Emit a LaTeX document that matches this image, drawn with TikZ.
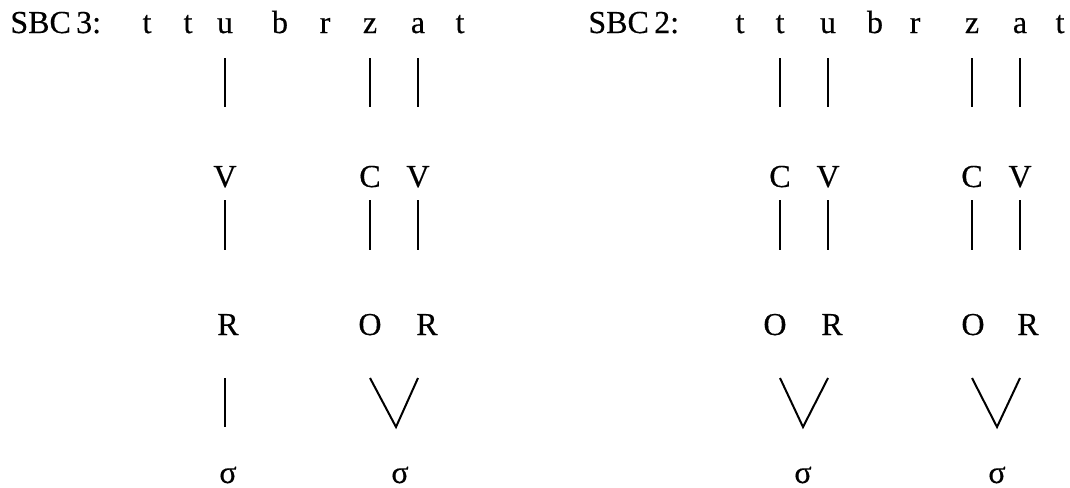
\documentclass[tikz,border=0pt]{standalone}
\usepackage{fontspec}
\setmainfont{Liberation Serif}[UprightFeatures={FakeBold=0.4}]
\usetikzlibrary{calc}

\tikzset{
  seg/.style={inner sep=0pt, text height=10.6pt, text depth=0pt, font=\fontsize{16}{19}\selectfont},
  tierA/.style={line width=1pt, shorten <=12.5pt, shorten >=29.4pt},
  tierB/.style={line width=1pt, shorten <=6.5pt, shorten >=37.2pt},
  tierC/.style={line width=1pt, shorten <=26.8pt, shorten >=22.7pt},
  vee/.style={line width=1pt}
}

\begin{document}
\begin{tikzpicture}[x=0.5pt,y=-0.5pt]

\useasboundingbox (0,0) rectangle (1070,487);

% SBC 3
\node[seg, anchor=west] (lab3) at (10,22.4) {SBC\,3:};
\node[seg] (l-t1) at (147,22.4) {t};
\node[seg] (l-t2) at (188,22.4) {t};
\node[seg] (l-u) at (225,22.4) {u};
\node[seg] (l-b) at (280,22.4) {b};
\node[seg] (l-r) at (325,22.4) {r};
\node[seg] (l-z) at (370,22.4) {z};
\node[seg] (l-a) at (418,22.4) {a};
\node[seg] (l-t3) at (460,22.4) {t};

\node[seg] (lV1) at (225,176.4) {V};
\node[seg] (lC2) at (370,176.4) {C};
\node[seg] (lV2) at (418,176.4) {V};

\node[seg] (lR1) at (228,324.4) {R};
\node[seg] (lO2) at (370,324.4) {O};
\node[seg] (lR2) at (427,324.4) {R};

\node[seg] (ls1) at (228,472.4) {σ};
\node[seg] (ls2) at (400,472.4) {σ};

\draw[tierA] (l-u) -- (lV1);
\draw[tierA] (l-z) -- (lC2);
\draw[tierA] (l-a) -- (lV2);

\draw[tierB] (lV1) -- (lV1 |- lR1);
\draw[tierB] (lC2) -- (lC2 |- lO2);
\draw[tierB] (lV2) -- (lV2 |- lR2);

\draw[tierC] (lV1 |- lR1) -- (lV1 |- ls1);
\draw[vee] ($(lC2 |- lO2)+(0,53.6)$) -- ($(ls2)+(-4,-45.4)$) -- ($(lV2 |- lR2)+(0,53.6)$);

% SBC 2
\node[seg, anchor=west] (lab2) at (588,22.4) {SBC\,2:};
\node[seg] (r-t1) at (740,22.4) {t};
\node[seg] (r-t2) at (780,22.4) {t};
\node[seg] (r-u) at (828,22.4) {u};
\node[seg] (r-b) at (875,22.4) {b};
\node[seg] (r-r) at (915,22.4) {r};
\node[seg] (r-z) at (972,22.4) {z};
\node[seg] (r-a) at (1020,22.4) {a};
\node[seg] (r-t3) at (1060,22.4) {t};

\node[seg] (rC1) at (780,176.4) {C};
\node[seg] (rV1) at (828,176.4) {V};
\node[seg] (rC2) at (972,176.4) {C};
\node[seg] (rV2) at (1020,176.4) {V};

\node[seg] (rO1) at (775,324.4) {O};
\node[seg] (rR1) at (832,324.4) {R};
\node[seg] (rO2) at (973,324.4) {O};
\node[seg] (rR2) at (1028,324.4) {R};

\node[seg] (rs1) at (803,472.4) {σ};
\node[seg] (rs2) at (997,472.4) {σ};

\draw[tierA] (r-t2) -- (rC1);
\draw[tierA] (r-u) -- (rV1);
\draw[tierA] (r-z) -- (rC2);
\draw[tierA] (r-a) -- (rV2);

\draw[tierB] (rC1) -- (rC1 |- rO1);
\draw[tierB] (rV1) -- (rV1 |- rR1);
\draw[tierB] (rC2) -- (rC2 |- rO2);
\draw[tierB] (rV2) -- (rV2 |- rR2);

\draw[vee] ($(rC1 |- rO1)+(0,53.6)$) -- ($(rs1)+(0,-45.4)$) -- ($(rV1 |- rR1)+(0,53.6)$);
\draw[vee] ($(rC2 |- rO2)+(0,53.6)$) -- ($(rs2)+(0,-45.4)$) -- ($(rV2 |- rR2)+(0,53.6)$);

\end{tikzpicture}
\end{document}
